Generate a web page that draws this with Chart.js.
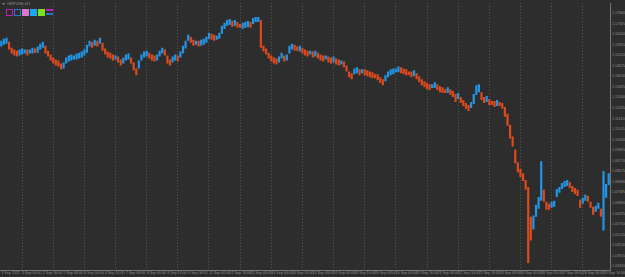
<!DOCTYPE html>
<html>
<head>
<meta charset="utf-8">
<script src="https://cdn.jsdelivr.net/npm/chart.js@4.4.1/dist/chart.umd.min.js"></script>
<style>
  html, body { margin: 0; padding: 0; background: #2d2d2d; }
  #wrap { width: 625px; height: 277px; }
</style>
</head>
<body>
<div id="wrap"><canvas id="priceChart"></canvas></div>
<script>
// GBPUSD H1, 1 Sep - 28 Sep 2022, one bar per 2 hours
const tickLabels = ["1 Sep 2022", "2 Sep 00:00", "2 Sep 16:00", "5 Sep 08:00", "6 Sep 00:00", "6 Sep 16:00",
  "7 Sep 08:00", "8 Sep 00:00", "8 Sep 16:00", "9 Sep 08:00", "12 Sep 00:00", "12 Sep 16:00",
  "13 Sep 08:00", "14 Sep 00:00", "14 Sep 16:00", "15 Sep 08:00", "16 Sep 00:00", "16 Sep 16:00",
  "19 Sep 08:00", "20 Sep 00:00", "20 Sep 16:00", "21 Sep 08:00", "22 Sep 00:00", "22 Sep 16:00",
  "23 Sep 08:00", "26 Sep 00:00", "26 Sep 16:00", "27 Sep 08:00", "28 Sep 00:00", "28 Sep 16:00"];

const priceTicks = [1.17600, 1.17005, 1.16410, 1.15815, 1.15220, 1.14625, 1.14030, 1.13435, 1.12840,
  1.12245, 1.11650, 1.11055, 1.10460, 1.09865, 1.09270, 1.08675, 1.08080, 1.07485, 1.06890,
  1.06295, 1.05700, 1.05105, 1.04510, 1.03915, 1.03320];

const highs = [
  1.1604, 1.1615, 1.1621, 1.1599, 1.1565, 1.1554, 1.1548, 1.1554, 1.1560, 1.1554,
  1.1554, 1.1554, 1.1565, 1.1560, 1.1571, 1.1587, 1.1599, 1.1576, 1.1548, 1.1526,
  1.1509, 1.1498, 1.1493, 1.1476, 1.1482, 1.1509, 1.1521, 1.1526, 1.1521, 1.1532,
  1.1537, 1.1543, 1.1554, 1.1582, 1.1604, 1.1599, 1.1610, 1.1604, 1.1621, 1.1593,
  1.1560, 1.1543, 1.1537, 1.1526, 1.1521, 1.1515, 1.1498, 1.1509, 1.1526, 1.1532,
  1.1509, 1.1482, 1.1448, 1.1493, 1.1526, 1.1543, 1.1548, 1.1537, 1.1526, 1.1521,
  1.1526, 1.1548, 1.1565, 1.1554, 1.1521, 1.1498, 1.1515, 1.1526, 1.1521, 1.1543,
  1.1576, 1.1604, 1.1638, 1.1626, 1.1610, 1.1604, 1.1604, 1.1610, 1.1615, 1.1626,
  1.1649, 1.1643, 1.1638, 1.1632, 1.1649, 1.1688, 1.1705, 1.1721, 1.1727, 1.1716,
  1.1721, 1.1710, 1.1699, 1.1705, 1.1710, 1.1716, 1.1710, 1.1732, 1.1738, 1.1738,
  1.1721, 1.1576, 1.1560, 1.1537, 1.1521, 1.1509, 1.1504, 1.1515, 1.1537, 1.1521,
  1.1526, 1.1576, 1.1587, 1.1582, 1.1571, 1.1576, 1.1565, 1.1554, 1.1548, 1.1548,
  1.1543, 1.1548, 1.1537, 1.1526, 1.1521, 1.1521, 1.1515, 1.1509, 1.1515, 1.1504,
  1.1498, 1.1493, 1.1487, 1.1465, 1.1431, 1.1420, 1.1448, 1.1454, 1.1443, 1.1443,
  1.1443, 1.1437, 1.1431, 1.1426, 1.1415, 1.1415, 1.1398, 1.1387, 1.1409, 1.1431,
  1.1443, 1.1448, 1.1448, 1.1459, 1.1454, 1.1448, 1.1443, 1.1431, 1.1431, 1.1437,
  1.1420, 1.1404, 1.1387, 1.1376, 1.1365, 1.1359, 1.1359, 1.1370, 1.1359, 1.1348,
  1.1342, 1.1331, 1.1342, 1.1331, 1.1320, 1.1303, 1.1309, 1.1287, 1.1270, 1.1253,
  1.1242, 1.1259, 1.1303, 1.1353, 1.1359, 1.1314, 1.1287, 1.1292, 1.1275, 1.1264,
  1.1264, 1.1270, 1.1259, 1.1253, 1.1231, 1.1192, 1.1130, 1.1064, 1.0991, 1.0919,
  1.0880, 1.0857, 1.0818, 1.0779, 1.0612, 1.0618, 1.0679, 1.0723, 1.0924, 1.0763,
  1.0696, 1.0684, 1.0696, 1.0701, 1.0768, 1.0779, 1.0802, 1.0813, 1.0818, 1.0807,
  1.0785, 1.0774, 1.0763, 1.0707, 1.0718, 1.0735, 1.0729, 1.0696, 1.0668, 1.0673,
  1.0690, 1.0657, 1.0869, 1.0796, 1.0857];

const lows = [
  1.1571, 1.1582, 1.1587, 1.1554, 1.1532, 1.1521, 1.1515, 1.1521, 1.1526, 1.1532,
  1.1521, 1.1532, 1.1532, 1.1537, 1.1537, 1.1554, 1.1565, 1.1532, 1.1515, 1.1493,
  1.1476, 1.1465, 1.1459, 1.1443, 1.1448, 1.1476, 1.1487, 1.1493, 1.1498, 1.1498,
  1.1504, 1.1509, 1.1521, 1.1537, 1.1571, 1.1565, 1.1576, 1.1571, 1.1587, 1.1548,
  1.1526, 1.1509, 1.1504, 1.1493, 1.1498, 1.1482, 1.1465, 1.1476, 1.1493, 1.1498,
  1.1476, 1.1437, 1.1409, 1.1448, 1.1493, 1.1509, 1.1515, 1.1504, 1.1493, 1.1487,
  1.1493, 1.1515, 1.1532, 1.1521, 1.1476, 1.1465, 1.1482, 1.1493, 1.1487, 1.1509,
  1.1532, 1.1560, 1.1604, 1.1593, 1.1576, 1.1582, 1.1571, 1.1576, 1.1582, 1.1593,
  1.1615, 1.1610, 1.1604, 1.1610, 1.1615, 1.1643, 1.1671, 1.1688, 1.1693, 1.1682,
  1.1688, 1.1677, 1.1677, 1.1671, 1.1677, 1.1682, 1.1677, 1.1699, 1.1710, 1.1710,
  1.1565, 1.1543, 1.1526, 1.1504, 1.1487, 1.1476, 1.1470, 1.1482, 1.1504, 1.1487,
  1.1493, 1.1532, 1.1554, 1.1548, 1.1548, 1.1543, 1.1532, 1.1521, 1.1515, 1.1526,
  1.1509, 1.1515, 1.1504, 1.1493, 1.1487, 1.1498, 1.1482, 1.1476, 1.1482, 1.1470,
  1.1465, 1.1470, 1.1454, 1.1431, 1.1398, 1.1387, 1.1415, 1.1420, 1.1409, 1.1420,
  1.1409, 1.1404, 1.1398, 1.1392, 1.1392, 1.1381, 1.1365, 1.1353, 1.1376, 1.1398,
  1.1409, 1.1415, 1.1426, 1.1426, 1.1420, 1.1415, 1.1409, 1.1409, 1.1398, 1.1404,
  1.1387, 1.1370, 1.1353, 1.1342, 1.1331, 1.1326, 1.1337, 1.1337, 1.1326, 1.1314,
  1.1309, 1.1309, 1.1309, 1.1298, 1.1287, 1.1259, 1.1275, 1.1253, 1.1236, 1.1220,
  1.1208, 1.1225, 1.1247, 1.1298, 1.1314, 1.1270, 1.1253, 1.1259, 1.1242, 1.1242,
  1.1231, 1.1236, 1.1236, 1.1220, 1.1175, 1.1125, 1.1052, 1.1008, 1.0913, 1.0863,
  1.0835, 1.0813, 1.0763, 1.0350, 1.0478, 1.0540, 1.0612, 1.0657, 1.0701, 1.0696,
  1.0651, 1.0651, 1.0662, 1.0668, 1.0723, 1.0746, 1.0768, 1.0779, 1.0785, 1.0774,
  1.0751, 1.0740, 1.0729, 1.0662, 1.0684, 1.0701, 1.0696, 1.0662, 1.0623, 1.0640,
  1.0657, 1.0612, 1.0534, 1.0718, 1.0790];

const upColor = "#2196e6";
const downColor = "#dd4a1c";
const BARS_PER_LABEL = 8;
const BARS_PER_DAY = 12;

let categories = highs.map((h, i) => i);
let ranges = highs.map((h, i) => [lows[i], h]);
let colors = highs.map((h, i) => {
  if (i === 0) return upColor;
  let mid = (h + lows[i]) / 2;
  let prev = (highs[i - 1] + lows[i - 1]) / 2;
  return mid >= prev ? upColor : downColor;
});

// background + MT4 style header
let terminalLook = {
  id: "terminalLook",
  beforeDraw(chart) {
    let c = chart.ctx;
    c.save();
    c.fillStyle = "#2d2d2d";
    c.fillRect(0, 0, chart.width, chart.height);
    c.restore();
  },
  afterDraw(chart) {
    let c = chart.ctx;
    c.save();
    c.fillStyle = "#8c8c8c";
    c.beginPath();
    c.moveTo(2, 3); c.lineTo(5, 3); c.lineTo(3.5, 5); c.closePath();
    c.fill();
    c.font = "4px 'Liberation Sans'";
    c.textBaseline = "middle";
    c.fillText("GBPUSD,H1", 7, 4);
    // indicator buttons
    c.lineWidth = 1;
    c.strokeStyle = "#b424b4"; c.strokeRect(6.5, 9.5, 6, 6);
    c.strokeStyle = "#2a78c8"; c.strokeRect(14.5, 9.5, 6, 6);
    c.fillStyle = "#d878d0"; c.fillRect(22, 9, 7, 7);
    c.fillStyle = "#18a8f0"; c.fillRect(30, 9, 7, 7);
    c.fillStyle = "#7ee01a"; c.fillRect(38, 9, 7, 7);
    c.fillStyle = "#c020c0"; c.fillRect(46, 9, 7, 2);
    c.fillStyle = "#2a78c8"; c.fillRect(46, 13, 7, 2);
    c.restore();
  }
};

let ctx = document.getElementById("priceChart").getContext("2d");
let priceChart = new Chart(ctx, {
  type: "bar",
  data: {
    labels: categories,
    datasets: [{
      data: ranges,
      backgroundColor: colors,
      borderWidth: 0,
      barPercentage: 1,
      categoryPercentage: 0.85
    }]
  },
  options: {
    responsive: true,
    maintainAspectRatio: false,
    animation: false,
    layout: { padding: 0 },
    plugins: {
      legend: { display: false },
      tooltip: { enabled: false }
    },
    scales: {
      x: {
        offset: true,
        afterFit: (s) => { s.height = 7; },
        grid: {
          offset: false,
          drawTicks: false,
          color: (c) => (c.index % BARS_PER_DAY === 8 ? "#585858" : "rgba(0,0,0,0)"),
          lineWidth: 1
        },
        border: { display: true, color: "#777777", dash: [1, 2] },
        ticks: {
          autoSkip: false,
          maxRotation: 0,
          minRotation: 0,
          align: "start",
          padding: 1,
          color: "#8c8c8c",
          font: { family: "Liberation Sans", size: 3.6 },
          callback: (v, i) => (i % BARS_PER_LABEL === 0 ? (tickLabels[i / BARS_PER_LABEL] || "") : "")
        }
      },
      y: {
        position: "right",
        min: 1.0311,
        max: 1.1816,
        afterFit: (s) => { s.width = 15; },
        afterBuildTicks: (s) => { s.ticks = priceTicks.map(v => ({ value: v })); },
        grid: { drawOnChartArea: false, drawTicks: true, tickLength: 1, color: "#777777" },
        border: { display: true, color: "#777777" },
        ticks: {
          padding: 1,
          color: "#8c8c8c",
          font: { family: "Liberation Sans", size: 3.6 },
          callback: (v) => Number(v).toFixed(5)
        }
      }
    }
  },
  plugins: [terminalLook]
});
</script>
</body>
</html>
